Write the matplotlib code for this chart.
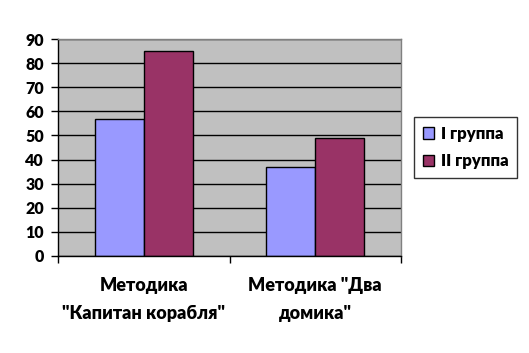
import matplotlib
matplotlib.use("Agg")
import matplotlib.pyplot as plt
import numpy as np

categories = ['Методика\n"Капитан корабля"', 'Методика "Два\nдомика"']
group1 = [57, 37]
group2 = [85, 49]
series_names = ['I группа', 'II группа']
yticks = list(range(0, 100, 10))

plt.rcParams['font.family'] = ['Lato', 'DejaVu Sans']
fw = 800

fig = plt.figure(figsize=(5.29, 3.53), dpi=100)
ax = fig.add_axes([58 / 529, 1 - 256 / 353, (401 - 58) / 529, (256 - 39) / 353])
ax.set_facecolor('#C0C0C0')

x = np.arange(len(categories))
w = 1 / 3.5
ax.set_axisbelow(True)
ax.yaxis.grid(True, color='black', linewidth=1)
ax.bar(x - w / 2, group1, w, color='#9999FF', edgecolor='black', linewidth=1, label=series_names[0])
ax.bar(x + w / 2, group2, w, color='#993366', edgecolor='black', linewidth=1, label=series_names[1])

ax.set_xlim(-0.5, len(categories) - 0.5)
ax.set_ylim(0, 90)
ax.set_yticks(yticks)
ax.set_yticklabels([str(v) for v in yticks], fontsize=11.5, fontweight=fw)
ax.tick_params(axis='y', length=5, width=1, direction='out', pad=5)

ax.set_xticks(x)
ax.set_xticklabels(categories, linespacing=1.8, fontsize=13, fontweight=fw)
ax.set_xticks(np.arange(len(categories) + 1) - 0.5, minor=True)
ax.tick_params(axis='x', which='major', length=0, pad=15)
ax.tick_params(axis='x', which='minor', length=5, width=1, direction='out')

for s in ['top', 'right']:
    ax.spines[s].set_color('#808080')
    ax.spines[s].set_linewidth(1)
for s in ['left', 'bottom']:
    ax.spines[s].set_color('black')
    ax.spines[s].set_linewidth(1)

leg = ax.legend(loc='center left', bbox_to_anchor=(1.015, 0.5), frameon=True,
                fancybox=False, edgecolor='black', handlelength=0.7, handleheight=0.7,
                handletextpad=0.4, borderpad=0.5, labelspacing=0.7,
                prop={'family': ['Lato', 'DejaVu Sans'], 'weight': fw, 'size': 12})
leg.get_frame().set_linewidth(1)

fig.savefig('out.png', dpi=100)
